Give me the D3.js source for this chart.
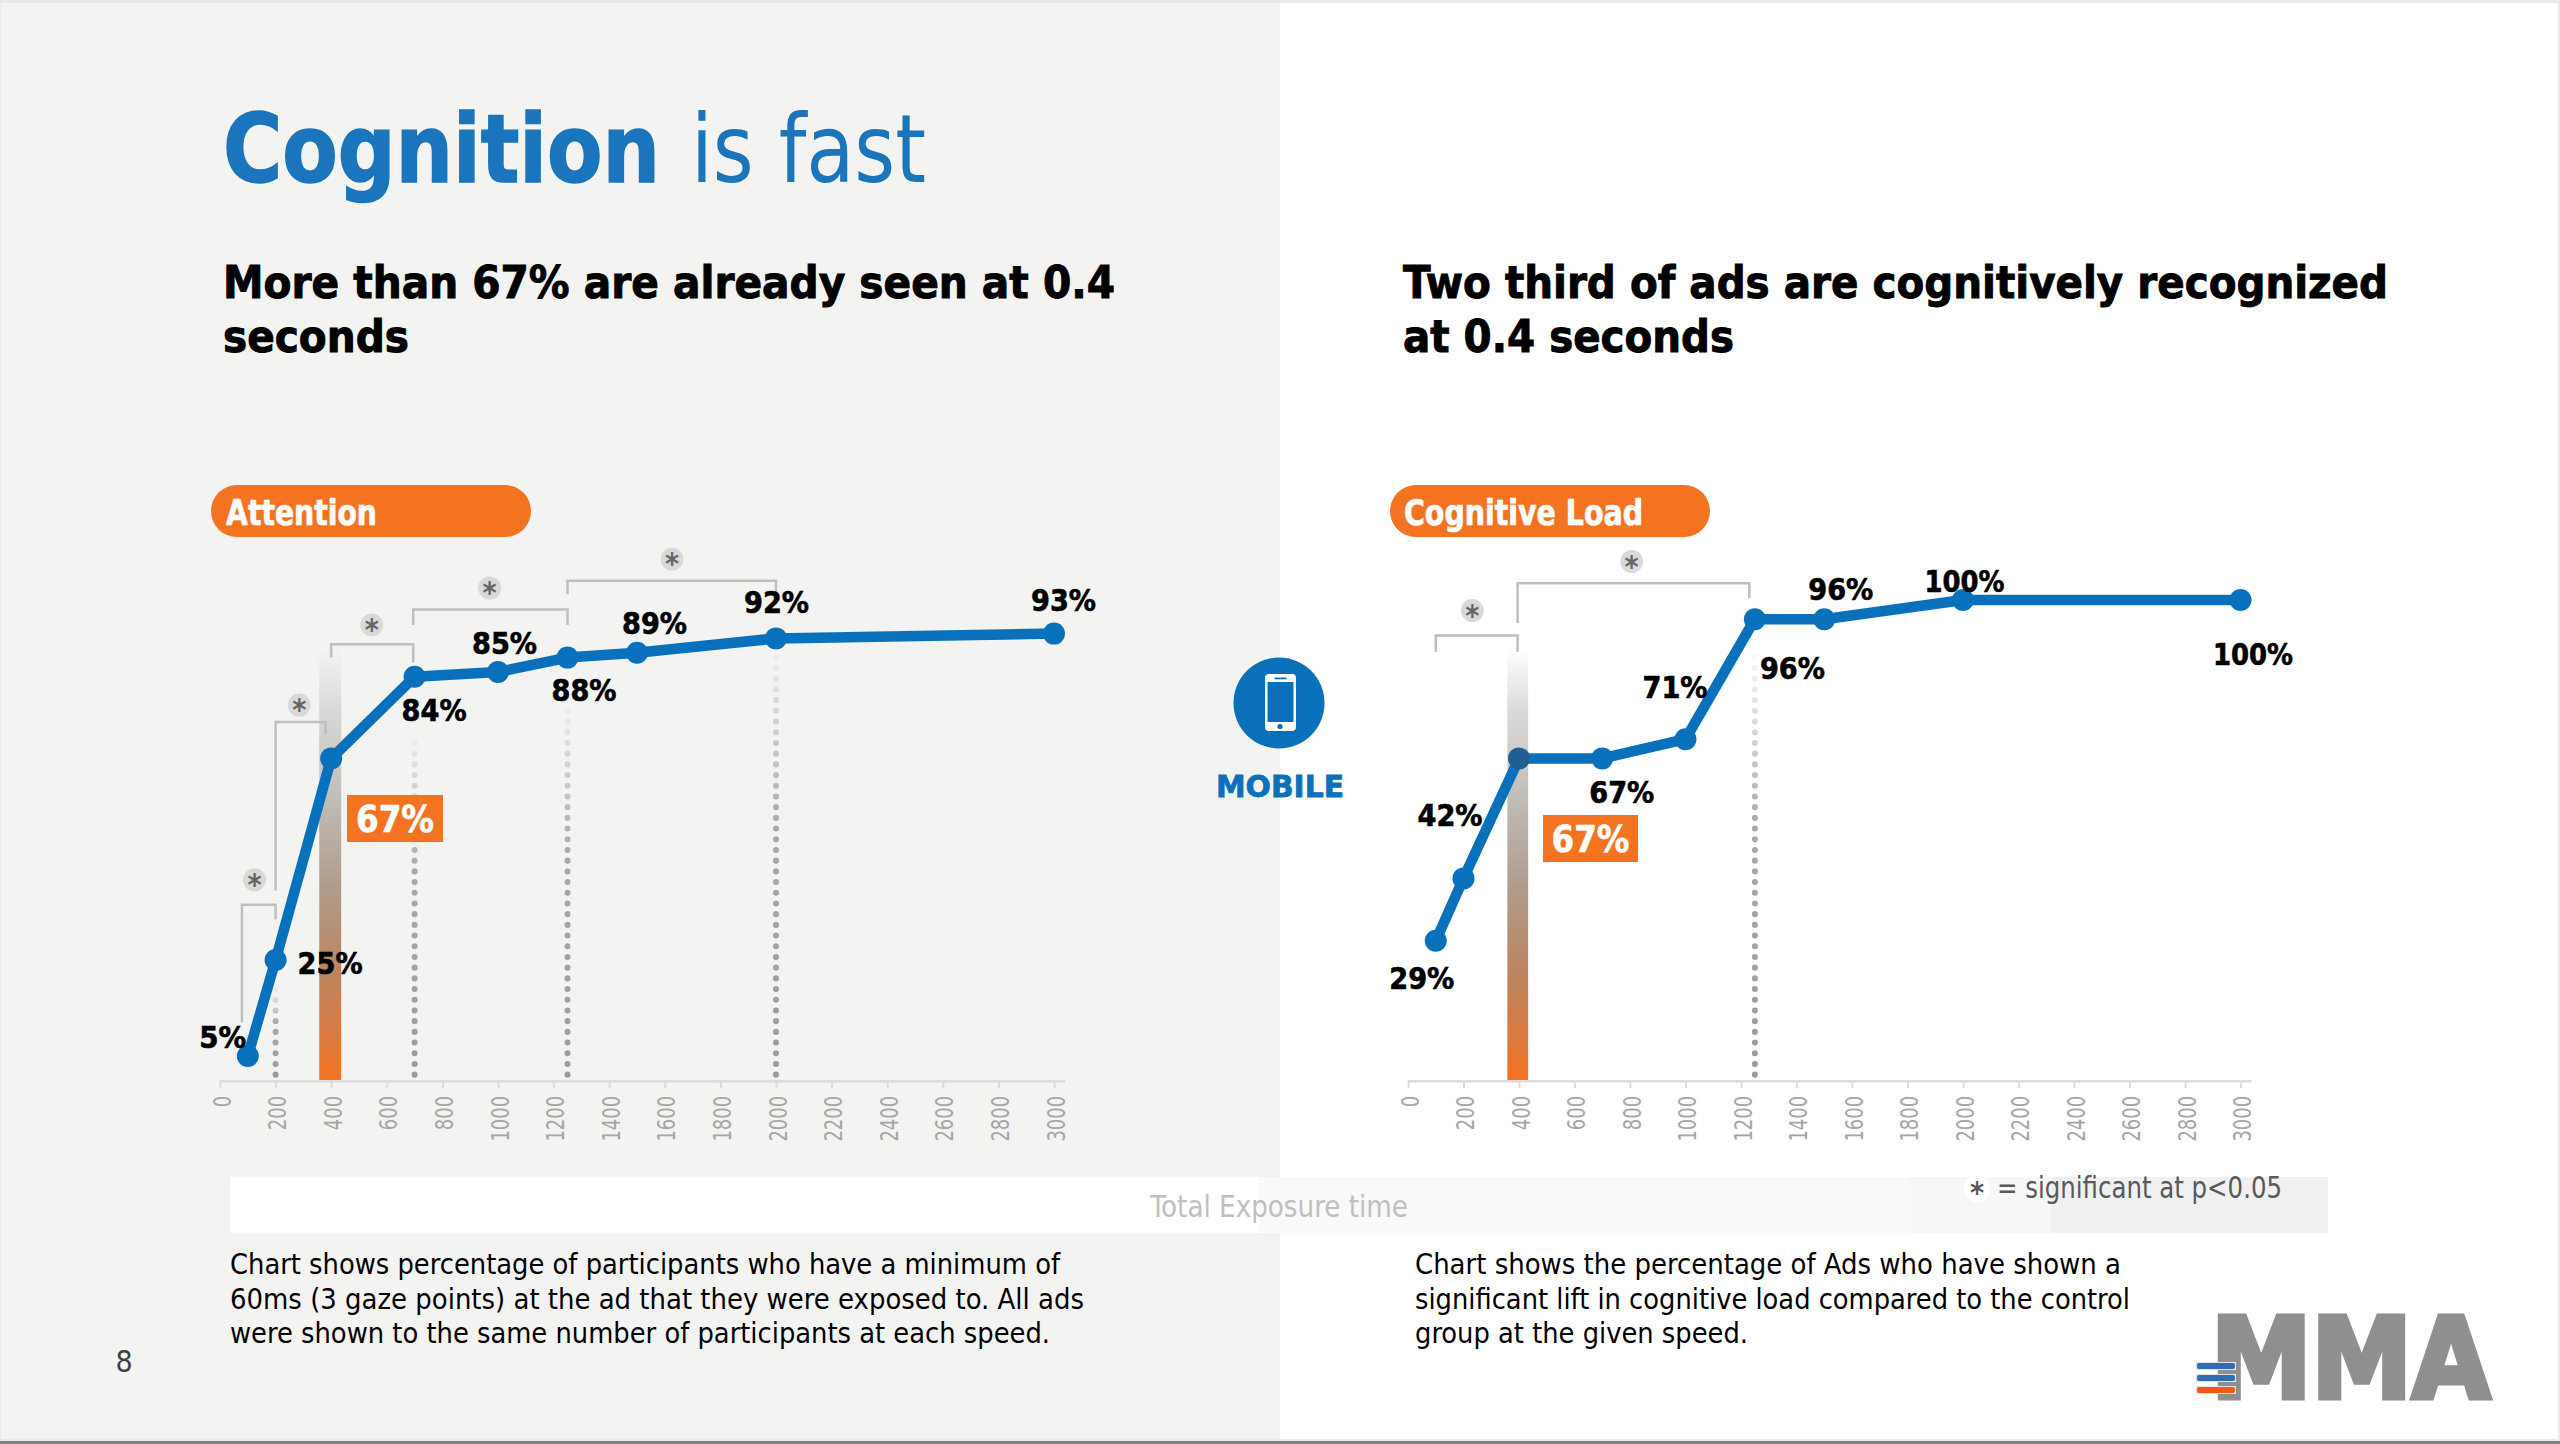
<!DOCTYPE html>
<html lang="en">
<head>
<meta charset="UTF-8">
<title>Cognition is fast</title>
<script src="https://cdn.jsdelivr.net/npm/d3@7"></script>
<style>
  html, body { margin: 0; padding: 0; background: #fff; }
  svg { display: block; }
  text { font-family: "DejaVu Sans", sans-serif; font-stretch: condensed; }
</style>
</head>
<body>
<svg id="slide" width="2560" height="1444"></svg>
<script>
// speeds in ms
const speeds = [100, 200, 400, 700, 1000, 1250, 1500, 2000, 3000];
const attention = [5, 25, 67, 84, 85, 88, 89, 92, 93];
const cognitiveLoad = [29, 42, 67, 67, 71, 96, 96, 100, 100];
const tickLabels = [0, 200, 400, 600, 800, 1000, 1200, 1400, 1600, 1800, 2000, 2200, 2400, 2600, 2800, 3000];

// dotted guide lines: speed and the % level where they fade out
const attentionGuides = [200, 700, 1250, 2000];
const attentionGuideTops = [19, 72, 78, 89];
const cognitiveGuides = [1250];
const cognitiveGuideTops = [89];

// significance brackets: from, to, top %, left end %, right end %
const attentionBrackets = [[79, 200, 36.5, 12, 33.5], [200, 380, 74.6, 39.5, 72], [400, 695, 90.8, 88, 87], [695, 1250, 98, 94.8, 94.8], [1250, 2000, 104, 101.2, 101.2]];
const attentionStars = [[124, 41.7], [285, 78.1], [546, 94.8], [970, 102.5], [1626, 108.5]];
const cognitiveBrackets = [[100, 395, 92.6, 89.2, 89.2], [395, 1230, 103.5, 95.2, 100.4]];
const cognitiveStars = [[232, 97.8], [806, 108]];

// label offsets from each point, px (null = label sits in the orange box)
const attentionLabelPos = [[-25, -8], [54.5, 14], null, [19.5, 44], [6.5, -18], [16.5, 43], [17.5, -19], [0.5, -25], [9.5, -23]];
const cognitiveLabelPos = [[-14, 48], [-13.5, -52], null, [19.5, 45], [-10.5, -41], [37.5, 60], [16.5, -19], [1.5, -8], [12.5, 65]];

const BLUE = "#0971bc", ORANGE = "#f47321";
const svg = d3.select("#slide");
const defs = svg.append("defs");

// helper, w squeezes the text to the width measured on the slide
function label(g, str, x, y, size, fill, o) {
  o = o || {};
  const t = g.append("text").attr("x", x).attr("y", y)
    .attr("font-size", size).attr("fill", fill)
    .attr("font-weight", o.bold ? "bold" : "normal")
    .attr("text-anchor", o.anchor || "start")
    .text(str);
  if (o.w) t.attr("textLength", o.w).attr("lengthAdjust", "spacingAndGlyphs");
  if (o.heavy) t.attr("stroke", fill).attr("stroke-width", o.heavy).attr("paint-order", "stroke");
  return t;
}

// slide background
svg.append("rect").attr("width", 2560).attr("height", 1444).attr("fill", "#e9e9e9");
svg.append("rect").attr("x", 1).attr("y", 3).attr("width", 1279).attr("height", 1436).attr("fill", "#f3f3f2");
svg.append("rect").attr("x", 1280).attr("y", 3).attr("width", 1278).attr("height", 1436).attr("fill", "#fff");
svg.append("rect").attr("y", 1441).attr("width", 2560).attr("height", 3).attr("fill", "#7f7f7f");

// strip behind the axis title
[[230, 1029, "#ffffff"], [1259, 651, "#f9f9f9"], [1910, 141, "#f6f7f8"], [2051, 277, "#f0f0f0"]].forEach(function (s) {
  svg.append("rect").attr("x", s[0]).attr("y", 1177).attr("width", s[1]).attr("height", 56).attr("fill", s[2]);
});

// headings
label(svg, "Cognition", 223, 182, 94, "#1b75bc", { bold: true, w: 437, heavy: 1.5 });
label(svg, "is fast", 691, 182, 94, "#1b75bc", { w: 235 });
label(svg, "More than 67% are already seen at 0.4", 223, 298, 45, "#000", { bold: true, w: 892, heavy: 0.9 });
label(svg, "seconds", 223, 352, 45, "#000", { bold: true, w: 186, heavy: 0.9 });
label(svg, "Two third of ads are cognitively recognized", 1403, 298, 45, "#000", { bold: true, w: 985, heavy: 0.9 });
label(svg, "at 0.4 seconds", 1403, 352, 45, "#000", { bold: true, w: 331, heavy: 0.9 });

// bar gradient, same for both charts
const barGrad = defs.append("linearGradient").attr("id", "barGrad").attr("x1", 0).attr("x2", 0).attr("y1", 0).attr("y2", 1);
[[0, "#d8d8d8", 0], [0.15, "#d4d4d4", 0.9], [0.35, "#c0bcb8", 1], [0.55, "#b09c8c", 1], [0.75, "#bb8560", 1], [0.9, "#d97a40", 1], [1, ORANGE, 1]].forEach(function (s) {
  barGrad.append("stop").attr("offset", s[0]).attr("stop-color", s[1]).attr("stop-opacity", s[2]);
});

const y = d3.scaleLinear().domain([0, 100]).range([1080, 600]);
const bandTop = 90; // top of the band, %

function drawChart(c) {
  const x = d3.scaleLinear().domain([0, 3000]).range(c.range);
  const g = svg.append("g");

  // pill title
  g.append("rect").attr("x", c.pill[0]).attr("y", 485).attr("width", c.pill[1]).attr("height", 52).attr("rx", 26).attr("fill", ORANGE);
  label(g, c.title, c.titleX, 525, 36, "#fff", { bold: true, w: c.titleW, heavy: 0.7 });

  // highlighted 400ms band
  g.append("rect").attr("x", x(c.band[0])).attr("width", x(c.band[1]) - x(c.band[0]))
    .attr("y", y(bandTop)).attr("height", y(0) - y(bandTop)).attr("fill", "url(#barGrad)");

  // dotted guides, drawn upward so the dots line up from the axis
  c.guides.forEach(function (v, i) {
    const top = y(c.guideTops[i]);
    const id = c.id + "Guide" + i;
    const gr = defs.append("linearGradient").attr("id", id).attr("gradientUnits", "userSpaceOnUse")
      .attr("x1", 0).attr("x2", 0).attr("y1", top).attr("y2", y(0));
    gr.append("stop").attr("offset", 0).attr("stop-color", "#a0a0a0").attr("stop-opacity", 0.05);
    gr.append("stop").attr("offset", 0.4).attr("stop-color", "#a0a0a0").attr("stop-opacity", 0.9);
    gr.append("stop").attr("offset", 1).attr("stop-color", "#9a9a9a");
    g.append("line").attr("x1", x(v)).attr("x2", x(v) + 0.01).attr("y1", y(0) - 5.3).attr("y2", top)
      .attr("stroke", "url(#" + id + ")").attr("stroke-width", 6)
      .attr("stroke-linecap", "round").attr("stroke-dasharray", "0.1 10.6");
  });

  // axis
  const axis = g.append("g").attr("transform", "translate(0," + (y(0) + 1.3) + ")")
    .call(d3.axisBottom(x).tickValues(tickLabels).tickFormat(function (d) { return d; }).tickSize(7).tickSizeOuter(0));
  axis.select(".domain").remove();
  axis.append("line").attr("x1", x(0)).attr("x2", x(3000) + 11).attr("stroke", "#dcdcdc").attr("stroke-width", 2.4);
  axis.selectAll(".tick line").attr("stroke", "#dcdcdc").attr("stroke-width", 2);
  axis.selectAll(".tick text")
    .attr("font-family", null).attr("fill", "#a6a6a6").attr("font-size", 25)
    .style("font-stretch", "normal")
    .attr("text-anchor", "end").attr("dy", "0.36em").attr("y", 0).attr("x", 0)
    .attr("transform", "translate(1,14.5) rotate(-90) scale(0.72,1)");

  // brackets
  c.brackets.forEach(function (b) {
    const path = d3.path();
    path.moveTo(x(b[0]), y(b[3]));
    path.lineTo(x(b[0]), y(b[2]));
    path.lineTo(x(b[1]), y(b[2]));
    path.lineTo(x(b[1]), y(b[4]));
    g.append("path").attr("d", path.toString()).attr("fill", "none").attr("stroke", "#bfbfbf").attr("stroke-width", 2.5);
  });
  c.stars.forEach(function (s) {
    g.append("circle").attr("cx", x(s[0])).attr("cy", y(s[1])).attr("r", 11.5).attr("fill", "#d9d9d9");
    label(g, "*", x(s[0]), y(s[1]) + 15, 30, "#666", { bold: true, anchor: "middle" });
  });

  // series
  const pts = speeds.map(function (s, i) { return [s, c.values[i]]; });
  g.append("path").datum(pts).attr("fill", "none").attr("stroke", BLUE).attr("stroke-width", 10.5).attr("stroke-linejoin", "round")
    .attr("d", d3.line().x(function (d) { return x(d[0]); }).y(function (d) { return y(d[1]); }));
  g.selectAll("circle.pt").data(pts).enter().append("circle").attr("class", "pt")
    .attr("cx", function (d) { return x(d[0]); }).attr("cy", function (d) { return y(d[1]); }).attr("r", 11)
    .attr("fill", function (d, i) { return c.darkDot === i ? "#1f5f96" : BLUE; });

  // value labels
  pts.forEach(function (d, i) {
    const p = c.labelPos[i];
    if (!p) return;
    label(g, d[1] + "%", x(d[0]) + p[0], y(d[1]) + p[1], 30, "#000", { bold: true, anchor: "middle", w: d[1] === 100 ? 80 : (d[1] === 5 ? 47 : 65), heavy: 0.6 });
  });

  // orange 67% box
  g.append("rect").attr("x", c.box[0]).attr("y", c.box[1]).attr("width", c.box[2]).attr("height", 47).attr("fill", ORANGE);
  label(g, "67%", c.box[0] + c.box[2] / 2, c.box[1] + 37, 38, "#fff", { bold: true, anchor: "middle", w: 78, heavy: 0.6 });
}

drawChart({ id: "att", title: "Attention", titleX: 226, titleW: 151, pill: [211, 320], range: [220, 1054], band: [357, 436],
  values: attention, guides: attentionGuides, guideTops: attentionGuideTops, brackets: attentionBrackets, stars: attentionStars,
  labelPos: attentionLabelPos, box: [347, 795, 96] });
drawChart({ id: "cog", title: "Cognitive Load", titleX: 1404, titleW: 239, pill: [1390, 320], range: [1408, 2240.5], band: [358, 433],
  values: cognitiveLoad, guides: cognitiveGuides, guideTops: cognitiveGuideTops, brackets: cognitiveBrackets, stars: cognitiveStars,
  labelPos: cognitiveLabelPos, box: [1543, 815, 95], darkDot: 2 });

// mobile badge
const badge = svg.append("g");
badge.append("circle").attr("cx", 1279).attr("cy", 703).attr("r", 45.5).attr("fill", "#0a70ba");
badge.append("rect").attr("x", 1265).attr("y", 674).attr("width", 31).attr("height", 57).attr("rx", 4).attr("fill", "#fff");
badge.append("rect").attr("x", 1267.5).attr("y", 682).attr("width", 26).attr("height", 40).attr("fill", "#0a70ba");
badge.append("rect").attr("x", 1274.5).attr("y", 677.5).attr("width", 12).attr("height", 1.8).attr("fill", "#0a70ba");
badge.append("circle").attr("cx", 1280).attr("cy", 726.5).attr("r", 2.6).attr("fill", "#0a70ba");
label(badge, "MOBILE", 1216, 797, 31, "#0a70ba", { bold: true, w: 128, heavy: 0.8 }).style("font-stretch", "normal");

// axis title and note
label(svg, "Total Exposure time", 1150, 1217, 30, "#bfbfbf", { w: 258 });
svg.append("circle").attr("cx", 1977).attr("cy", 1189).attr("r", 13).attr("fill", "#fff");
label(svg, "*", 1977, 1203, 30, "#595959", { bold: true, anchor: "middle" });
label(svg, "= significant at p<0.05", 1997, 1198, 30, "#595959", { w: 285 });

// captions
const capL = ["Chart shows percentage of participants who have a minimum of", "60ms (3 gaze points) at the ad that they were exposed to. All ads", "were shown to the same number of participants at each speed."];
const capLW = [830, 854, 820];
const capR = ["Chart shows the percentage of Ads who have shown a", "significant lift in cognitive load compared to the control", "group at the given speed."];
const capRW = [706, 715, 333];
capL.forEach(function (s, i) { label(svg, s, 230, 1274 + i * 34.5, 29, "#000", { w: capLW[i] }); });
capR.forEach(function (s, i) { label(svg, s, 1415, 1274 + i * 34.5, 29, "#000", { w: capRW[i] }); });

label(svg, "8", 124, 1372, 30, "#404040", { anchor: "middle" });

// logo
label(svg, "MMA", 2211, 1398, 112, "#8f8f8f", { bold: true, w: 279, heavy: 5 });
[[1366, "#2e6db4"], [1378, "#2e6db4"], [1390, "#f25a12"]].forEach(function (b) {
  svg.append("rect").attr("x", 2196).attr("y", b[0] - 4).attr("width", 40).attr("height", 8).attr("fill", "#dfe3e8");
  svg.append("rect").attr("x", 2197).attr("y", b[0] - 3).attr("width", 38).attr("height", 6).attr("rx", 2).attr("fill", b[1]);
});
</script>
</body>
</html>
